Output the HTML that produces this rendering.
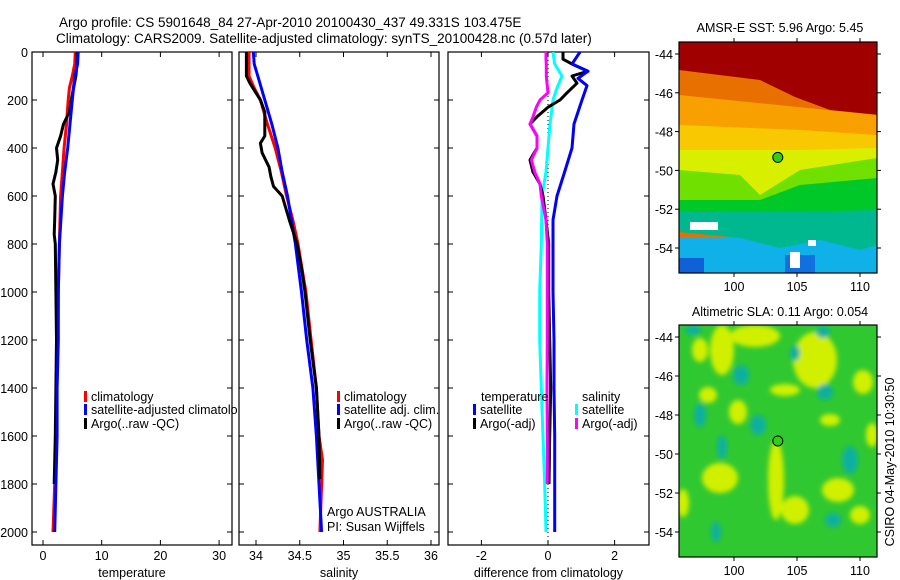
<!DOCTYPE html>
<html><head><meta charset="utf-8"><style>
html,body{margin:0;padding:0;background:#fff;width:900px;height:580px;overflow:hidden}
svg{display:block;font-family:"Liberation Sans",sans-serif}
text{fill:#000}
</style></head><body>
<svg id="fig" width="900" height="580" viewBox="0 0 900 580" xmlns="http://www.w3.org/2000/svg">
<defs>
<clipPath id="c1"><rect x="32" y="52" width="206" height="493"/></clipPath>
<clipPath id="c2"><rect x="239" y="52" width="200" height="493"/></clipPath>
<clipPath id="c3"><rect x="448" y="52" width="201" height="493"/></clipPath>
<clipPath id="m1"><rect x="679" y="42" width="198" height="231"/></clipPath>
<clipPath id="m2"><rect x="679" y="325" width="198" height="232"/></clipPath>
<filter id="blur" x="-20%" y="-20%" width="140%" height="140%"><feGaussianBlur stdDeviation="2.5"/></filter>
</defs>
<text x="59" y="27" font-size="13.5">Argo profile: CS 5901648_84 27-Apr-2010 20100430_437 49.331S 103.475E</text>
<text x="56" y="43" font-size="13.5">Climatology: CARS2009. Satellite-adjusted climatology: synTS_20100428.nc (0.57d later)</text>
<g id="g"></g>
</svg>
<script>
// ---- data ----
const tDepth=[0,50,100,150,200,300,400,500,600,800,1000,1200,1400,1600,1800,2000];
const tClim=[5.5,5.4,5.0,4.5,4.3,4.0,3.6,3.3,3.0,2.8,2.6,2.5,2.3,2.2,2.0,1.7];
const tSat=[6.0,5.9,5.4,5.2,5.0,4.6,4.2,3.7,3.3,2.8,2.6,2.6,2.4,2.4,2.2,2.0];
const aDepth=[0,50,100,200,250,300,350,400,450,500,550,600,700,760,800,1000,1200,1400,1600,1800];
const tArgo=[5.8,5.8,5.6,4.8,4.5,3.5,3.0,2.3,2.5,2.2,1.7,2.1,2.0,1.9,2.1,2.2,2.3,2.2,2.1,1.9];
const sDepth=[0,100,150,200,300,400,500,600,700,800,1000,1200,1400,1600,1700,2000];
const sClim=[33.92,33.92,33.98,34.05,34.13,34.22,34.29,34.35,34.42,34.48,34.57,34.63,34.69,34.72,34.76,34.73];
const sSatD=[0,50,100,150,200,300,400,500,600,800,1000,1200,1400,1600,1800,2000];
const sSat=[33.97,33.98,34.02,34.06,34.1,34.18,34.25,34.3,34.36,34.45,34.52,34.58,34.65,34.69,34.72,34.75];
const sArgoD=[0,100,130,200,250,300,350,380,420,480,520,560,600,700,800,900,1000,1200,1400,1600,1780];
const sArgo=[33.89,33.89,33.93,34.05,34.1,34.1,34.1,34.05,34.07,34.15,34.17,34.2,34.3,34.38,34.47,34.52,34.56,34.62,34.69,34.72,34.73];
const dTD=[0,50,80,110,140,200,300,400,500,600,700,800,1000,1200,1400,1600,1800,2000];
const dTSat=[0.96,0.72,1.2,0.9,1.17,1.02,0.78,0.72,0.5,0.27,0.15,0.15,0.15,0.18,0.18,0.2,0.2,0.2];
const dAD=[0,30,50,80,100,130,170,200,230,270,300,350,400,450,500,550,600,700,800,1000,1200,1400,1600,1800];
const dTArgo=[0.45,0.45,0.72,1.2,0.72,0.87,0.57,0.36,0.0,-0.33,-0.54,-0.33,-0.33,-0.54,-0.45,-0.24,-0.15,-0.06,0.02,0.02,0.05,0.08,0.05,0.03];
const dSArgo=[-0.06,-0.06,-0.05,-0.05,-0.05,-0.03,0.0,-0.24,-0.35,-0.45,-0.54,-0.33,-0.33,-0.5,-0.4,-0.24,-0.2,-0.06,-0.02,-0.02,-0.02,-0.03,-0.02,-0.02];
const dSD=[0,50,100,150,200,300,400,500,600,800,1000,1200,1400,1600,1800,2000];
const dSSat=[0.15,0.2,0.42,0.27,0.15,0.06,0.0,-0.06,-0.18,-0.2,-0.25,-0.25,-0.2,-0.15,-0.1,-0.06];
const depthTicks=[0,200,400,600,800,1000,1200,1400,1600,1800,2000];
const tempTicks=[0,10,20,30];
const salTicks=[34,34.5,35,35.5,36];
const salTickLabels=["34","34.5","35","35.5","36"];
const diffTicks=[-2,0,2];
const diffTickLabels=["-2","0","2"];
const lonTicks=[100,105,110];
const latTicks=[-44,-46,-48,-50,-52,-54];
const argoLon=103.475, argoLat=-49.331;

// ---- helpers ----
const NS="http://www.w3.org/2000/svg";
const G=document.getElementById('g');
function mk(tag,attrs,parent){const e=document.createElementNS(NS,tag);for(const k in attrs)e.setAttribute(k,attrs[k]);(parent||G).appendChild(e);return e;}
const yD=d=>52+d*0.24;
const xT=v=>43+v*5.87;
const xS=v=>256+(v-34)*87.5;
const xDf=v=>548+v*33.3;
const xLon=v=>734+(v-100)*12.6;
const yLat1=v=>54+(-44-v)*19.4;
const yLat2=v=>337+(-44-v)*19.5;

function panel(name,x0,x1,y0,y1,xTicks,xLabels,xf,xlabel,depthLabels){
  const f=mk('rect',{x:x0,y:y0,width:x1-x0,height:y1-y0,fill:'none',stroke:'#000','stroke-width':1.2});
  
  
  depthTicks.forEach(d=>{
    const y=yD(d);
    mk('line',{x1:x0,x2:x0+5,y1:y,y2:y,stroke:'#000'});
    mk('line',{x1:x1,x2:x1-5,y1:y,y2:y,stroke:'#000'});
    if(depthLabels){const t=mk('text',{x:x0-4,y:y+5,'text-anchor':'end','font-size':12.5});t.textContent=d;
      
      }
  });
  xTicks.forEach((v,i)=>{
    const x=xf(v);
    mk('line',{x1:x,x2:x,y1:y1,y2:y1-5,stroke:'#000'});
    mk('line',{x1:x,x2:x,y1:y0,y2:y0+5,stroke:'#000'});
    const t=mk('text',{x:x,y:560,'text-anchor':'middle','font-size':12.5});t.textContent=xLabels[i];
    
    
  });
  const l=mk('text',{x:(x0+x1)/2,y:577,'text-anchor':'middle','font-size':12.5});l.textContent=xlabel;
  
  
}
function line(name,ds,vs,xf,color,clip,w){
  const pts=ds.map((d,i)=>xf(vs[i]).toFixed(1)+','+yD(d).toFixed(1)).join(' ');
  const p=mk('polyline',{points:pts,fill:'none',stroke:color,'stroke-width':w||3,'clip-path':'url(#'+clip+')','stroke-linejoin':'round'});
  
  
}
function legend(name,x,y,color,label,clip){
  const g=mk('g',clip?{'clip-path':'url(#'+clip+')'}:{});
  
  
  if(color)mk('rect',{x:x,y:y-9,width:3,height:11,fill:color},g);
  const t=mk('text',{x:x+7,y:y+1,'font-size':12.5},g);t.textContent=label;
}

// temperature panel
panel('temperature',32,232,52,545,tempTicks,tempTicks.map(String),xT,'temperature',true);
line('temp-climatology-line',tDepth,tClim,xT,'#f00','c1');
line('temp-argo-line',aDepth,tArgo,xT,'#000','c1');
line('temp-satellite-line',tDepth,tSat,xT,'#00f','c1');
legend('legend-climatology',84,400,'#f00','climatology','c1');
legend('legend-satellite-adjusted',84,413,'#00f','satellite-adjusted climatology','c1');
legend('legend-argo-raw',84,427,'#000','Argo(..raw -QC)','c1');

// salinity panel
panel('salinity',239,439,52,545,salTicks,salTickLabels,xS,'salinity',false);
line('sal-climatology-line',sDepth,sClim,xS,'#f00','c2');
line('sal-satellite-line',sSatD,sSat,xS,'#00f','c2');
line('sal-argo-line',sArgoD,sArgo,xS,'#000','c2');
legend('legend-sal-climatology',337,400,'#f00','climatology');
legend('legend-sal-satellite',337,413,'#00f','satellite adj. clim.');
legend('legend-sal-argo',337,427,'#000','Argo(..raw -QC)');
let t=mk('text',{x:327,y:516,'font-size':12.5});t.textContent='Argo AUSTRALIA';


t=mk('text',{x:327,y:531,'font-size':12.5});t.textContent='PI: Susan Wijffels';



// difference panel
panel('difference',448,649,52,545,diffTicks,diffTickLabels,xDf,'difference from climatology',false);
const z=mk('line',{x1:xDf(0),x2:xDf(0),y1:52,y2:545,stroke:'#000','stroke-dasharray':'1,3'});


line('diff-sal-satellite-line',dSD,dSSat,xDf,'#0ff','c3');
line('diff-temp-argo-line',dAD,dTArgo,xDf,'#000','c3');
line('diff-sal-argo-line',dAD,dSArgo,xDf,'#f0f','c3');
line('diff-temp-satellite-line',dTD,dTSat,xDf,'#00f','c3');
legend('legend-temperature-header',474,400,null,'temperature');
legend('legend-temp-satellite',473,413,'#00f','satellite');
legend('legend-temp-argo',473,427,'#000','Argo(-adj)');
legend('legend-salinity-header',575,400,null,'salinity');
legend('legend-sal-satellite-diff',575,413,'#0ff','satellite');
legend('legend-sal-argo-diff',575,427,'#f0f','Argo(-adj)');

// map axes
function mapAxes(name,y0,y1,yf,title,ty){
  const f=mk('rect',{x:679,y:y0,width:198,height:y1-y0,fill:'none',stroke:'#000','stroke-width':1.2});
  
  
  lonTicks.forEach(v=>{const x=xLon(v);
    mk('line',{x1:x,x2:x,y1:y1,y2:y1+4,stroke:'#000'});
    mk('line',{x1:x,x2:x,y1:y0,y2:y0-4,stroke:'#000'});
    const t=mk('text',{x:x,y:y1+18,'text-anchor':'middle','font-size':12.5});t.textContent=v;
    
    });
  latTicks.forEach(v=>{const y=yf(v);
    mk('line',{x1:679,x2:675,y1:y,y2:y,stroke:'#000'});
    mk('line',{x1:877,x2:881,y1:y,y2:y,stroke:'#000'});
    const t=mk('text',{x:673,y:y+5,'text-anchor':'end','font-size':12.5});t.textContent=v;
    
    });
  const tt=mk('text',{x:780,y:ty,'text-anchor':'middle','font-size':12.5});tt.textContent=title;
  
  
}

// SST map (banded fields)
const sst=mk('g',{'clip-path':'url(#m1)'});


mk('rect',{x:679,y:42,width:198,height:231,fill:'#e87000'},sst);
const sstBands=[
 ['#10b0e8','679,238 877,238 877,273 679,273'],
 ['#00b890','679,205 877,205 877,245 860,250 820,240 780,248 740,238 679,232'],
 ['#00c828','679,190 877,172 877,210 800,212 679,212'],
 ['#70e000','679,160 877,150 877,178 800,185 760,200 679,200'],
 ['#d8f000','679,140 877,140 877,158 800,170 760,195 740,175 679,170'],
 ['#f8c800','679,118 877,130 877,148 800,150 679,150'],
 ['#f8a000','679,95 877,115 877,135 800,130 679,125'],
 ['#a00000','679,40 880,40 880,115 830,110 795,97 760,80 679,70']
];
sstBands.forEach(b=>mk('polygon',{points:b[1],fill:b[0]},sst));
mk('rect',{x:679,y:258,width:25,height:15,fill:'#1060d8'},sst);
mk('rect',{x:785,y:255,width:30,height:18,fill:'#1070e0'},sst);
mk('rect',{x:690,y:222,width:28,height:8,fill:'#fff'},sst);
mk('rect',{x:790,y:252,width:10,height:16,fill:'#fff'},sst);
mk('rect',{x:808,y:240,width:8,height:6,fill:'#fff'},sst);
mapAxes('sst-map',42,273,yLat1,'AMSR-E SST: 5.96 Argo: 5.45',32);
let c=mk('circle',{cx:xLon(argoLon),cy:yLat1(argoLat),r:5,fill:'#30d010',stroke:'#000','stroke-width':1});



// SLA map
const sla=mk('g',{'clip-path':'url(#m2)'});


mk('rect',{x:679,y:325,width:198,height:232,fill:'#30c830'},sla);
const bl=mk('g',{filter:'url(#blur)'},sla);
const yel=[[722,350,12,25],[708,395,9,8],[738,412,9,12],[720,478,18,15],[776,480,8,40],[795,510,14,14],[815,360,22,28],[838,490,16,12],[863,382,10,12],[755,336,25,11],[683,503,6,14],[872,435,6,12],[860,515,10,9],[700,350,8,12],[785,390,15,6],[830,420,10,6]];
yel.forEach(e=>mk('ellipse',{cx:e[0],cy:e[1],rx:e[2],ry:e[3],fill:'#d0f000'},bl));
const teal=[[741,375,8,10],[758,425,8,10],[722,447,5,12],[825,392,8,8],[716,532,5,10],[795,353,5,8],[833,520,8,7],[823,332,7,6],[693,330,8,5],[850,460,8,14],[700,415,6,12]];
teal.forEach(e=>mk('ellipse',{cx:e[0],cy:e[1],rx:e[2],ry:e[3],fill:'#10b0a0'},bl));
mapAxes('sla-map',325,557,yLat2,'Altimetric SLA: 0.11 Argo: 0.054',316);
c=mk('circle',{cx:xLon(argoLon),cy:yLat2(argoLat),r:5,fill:'#30d010',stroke:'#000','stroke-width':1});


t=mk('text',{x:0,y:0,'font-size':12.5,'text-anchor':'middle',transform:'translate(894,462) rotate(-90)'});t.textContent='CSIRO 04-May-2010 10:30:50';


</script>
</body></html>
